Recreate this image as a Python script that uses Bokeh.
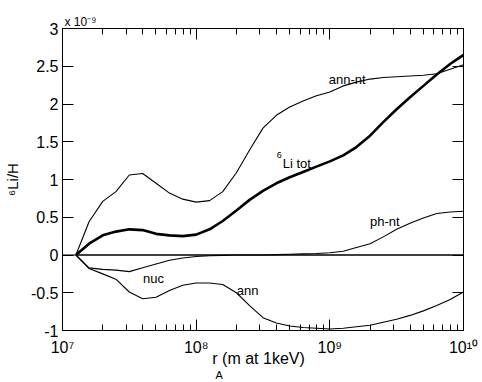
from bokeh.plotting import figure
from bokeh.models import (LogAxis, LinearAxis, FixedTicker, Span, Label, Title,
                          ColumnDataSource, Range1d)
from bokeh.embed import file_html
from bokeh.resources import INLINE

# ---------------- data (values in units of 1e-9) ----------------
r_A = [1.26e7, 1.58e7, 2.0e7, 2.51e7, 3.16e7, 3.98e7, 5.01e7, 6.31e7, 7.94e7, 1.0e8,
       1.26e8, 1.58e8, 2.0e8, 2.51e8, 3.16e8, 3.98e8, 5.01e8, 6.31e8, 7.94e8, 1.0e9,
       1.26e9, 1.58e9, 2.0e9, 2.51e9, 3.16e9, 3.98e9, 5.01e9, 6.31e9, 7.94e9, 1.0e10]

li_tot = [0.0, 0.15, 0.26, 0.31, 0.34, 0.33, 0.28, 0.26, 0.25, 0.27,
          0.34, 0.45, 0.59, 0.73, 0.85, 0.95, 1.03, 1.10, 1.17, 1.24,
          1.32, 1.43, 1.58, 1.76, 1.93, 2.09, 2.24, 2.39, 2.53, 2.65]

ann_nt = [0.0, 0.44, 0.71, 0.84, 1.06, 1.08, 0.95, 0.82, 0.74, 0.70,
          0.72, 0.84, 1.09, 1.39, 1.68, 1.85, 1.96, 2.04, 2.11, 2.16,
          2.24, 2.29, 2.33, 2.35, 2.36, 2.37, 2.38, 2.40, 2.46, 2.52]

ann = [0.0, -0.18, -0.25, -0.32, -0.49, -0.58, -0.56, -0.47, -0.40, -0.37,
       -0.37, -0.39, -0.50, -0.67, -0.83, -0.90, -0.94, -0.96, -0.97, -0.98,
       -0.97, -0.95, -0.93, -0.89, -0.85, -0.80, -0.74, -0.67, -0.59, -0.49]

nuc = [0.0, -0.17, -0.19, -0.20, -0.22, -0.17, -0.12, -0.07, -0.04, -0.02,
       -0.01, -0.005, 0.0, 0.0, 0.0, 0.0, 0.0, 0.0, 0.0, 0.0,
       0.0, 0.0, 0.0, 0.0, 0.0, 0.0, 0.0, 0.0, 0.0, 0.0]

ph_nt = [0.0, 0.0, 0.0, 0.0, 0.0, 0.0, 0.0, 0.0, 0.0, 0.0,
         0.0, 0.0, 0.0, 0.0, 0.0, 0.005, 0.01, 0.015, 0.02, 0.03,
         0.05, 0.10, 0.15, 0.24, 0.34, 0.42, 0.49, 0.55, 0.57, 0.58]

x_major = [1e7, 1e8, 1e9, 1e10]
x_major_labels = ["10\u2077", "10\u2078", "10\u2079", "10\u00b9\u2070"]
x_minor_mult = [2, 3, 4, 5, 6, 7, 8, 9]

y_ticks = [-1, -0.5, 0, 0.5, 1, 1.5, 2, 2.5, 3]
y_tick_labels = ["-1", "-0.5", "0", "0.5", "1", "1.5", "2", "2.5", "3"]

FONT = "Liberation Sans"

x_minor = [m * d for d in x_major[:-1] for m in x_minor_mult]

p = figure(width=482, height=382, x_axis_type="log",
           x_range=Range1d(1e7, 1e10), y_range=Range1d(-1, 3),
           output_backend="svg", toolbar_location=None,
           min_border_left=61, min_border_right=19,
           min_border_top=28, min_border_bottom=52)
p.grid.visible = False
p.outline_line_color = "black"
p.outline_line_width = 1
p.background_fill_color = "white"
p.border_fill_color = "white"


def hide_labels(ax):
    ax.major_label_text_font_size = "1px"
    ax.major_label_text_alpha = 0
    ax.major_label_standoff = 0


def style_x(ax, labels=True):
    ax.ticker = FixedTicker(ticks=x_major, minor_ticks=x_minor)
    ax.major_tick_in = 11
    ax.major_tick_out = 0
    ax.minor_tick_in = 6
    ax.minor_tick_out = 0
    ax.axis_line_color = "black"
    ax.major_tick_line_color = "black"
    ax.minor_tick_line_color = "black"
    if labels:
        ax.major_label_overrides = {t: s for t, s in zip(x_major, x_major_labels)}
        ax.major_label_text_font = FONT
        ax.major_label_text_font_size = "16px"
        ax.major_label_text_color = "black"
        ax.major_label_standoff = 8
    else:
        hide_labels(ax)


def style_y(ax, labels=True):
    ax.ticker = FixedTicker(ticks=y_ticks)
    ax.major_label_overrides = {t: s for t, s in zip(y_ticks, y_tick_labels)}
    ax.major_tick_in = 11
    ax.major_tick_out = 0
    ax.minor_tick_line_color = None
    ax.axis_line_color = "black"
    ax.major_tick_line_color = "black"
    if labels:
        ax.major_label_text_font = FONT
        ax.major_label_text_font_size = "16px"
        ax.major_label_text_color = "black"
        ax.major_label_standoff = 4
    else:
        hide_labels(ax)


xax = p.xaxis[0]
style_x(xax)
xax.axis_label = "r   (m at 1keV)"
xax.axis_label_text_font = FONT
xax.axis_label_text_font_size = "16px"
xax.axis_label_text_font_style = "normal"
xax.axis_label_text_color = "black"
xax.axis_label_standoff = -9

yax = p.yaxis[0]
style_y(yax)
yax.axis_label = "\u2076Li/H"
yax.axis_label_text_font = FONT
yax.axis_label_text_font_size = "15px"
yax.axis_label_text_font_style = "normal"
yax.axis_label_text_color = "black"
yax.axis_label_standoff = 7

top = LogAxis()
style_x(top, labels=False)
p.add_layout(top, "above")
right = LinearAxis()
style_y(right, labels=False)
p.add_layout(right, "right")

# subscript of r_A, placed below the axis title row
p.add_layout(Title(text="A", align="left", offset=153, standoff=-5,
                   text_font=FONT, text_font_size="11px", text_font_style="normal",
                   text_color="black"), "below")
# multiplier above the frame
p.add_layout(Title(text="x 10\u207b\u2079", align="left", offset=2, standoff=0,
                   text_font=FONT, text_font_size="12px", text_font_style="normal",
                   text_color="black"), "above")

p.add_layout(Span(location=0, dimension="width", line_color="black", line_width=1))

src = ColumnDataSource(dict(r=r_A, tot=li_tot, annnt=ann_nt, ann=ann, nuc=nuc, ph=ph_nt))
p.line("r", "annnt", source=src, line_color="black", line_width=1.1)
p.line("r", "ann", source=src, line_color="black", line_width=1.1)
p.line("r", "nuc", source=src, line_color="black", line_width=1.1)
p.line("r", "ph", source=src, line_color="black", line_width=1.1)
p.line("r", "tot", source=src, line_color="black", line_width=2.6)


def lab(x, y, t, size, align="left"):
    p.add_layout(Label(x=x, y=y, text=t, text_font=FONT, text_font_size=size,
                       text_color="black", text_align=align,
                       text_baseline="alphabetic"))


# curve labels
lab(1.35e9, 2.33, "ann-nt", "13px", "center")
lab(4.44e8, 1.21, "Li tot", "13px")
lab(4.0e8, 1.32, "6", "9px")
lab(2.0e9, 0.44, "ph-nt", "13px")
lab(4.0e7, -0.31, "nuc", "13px")
lab(2.01e8, -0.47, "ann", "13px")

open("out.html", "w").write(file_html(p, INLINE))
